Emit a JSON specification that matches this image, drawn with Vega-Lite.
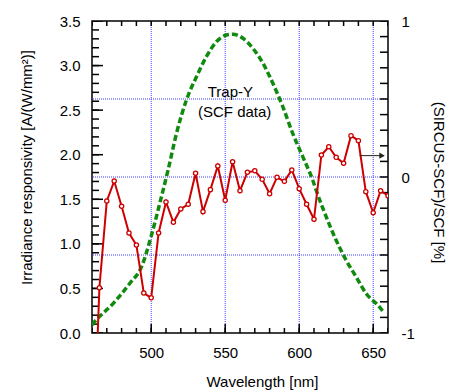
{
  "$schema": "https://vega.github.io/schema/vega-lite/v6.json",
  "autosize": "none",
  "width": 296,
  "height": 312,
  "padding": {"left": 92, "top": 21, "right": 63, "bottom": 59},
  "background": "white",
  "datasets": {
    "xminor": [{"t": 460}, {"t": 470}, {"t": 480}, {"t": 490}, {"t": 500}, {"t": 510}, {"t": 520}, {"t": 530}, {"t": 540}, {"t": 550}, {"t": 560}, {"t": 570}, {"t": 580}, {"t": 590}, {"t": 600}, {"t": 610}, {"t": 620}, {"t": 630}, {"t": 640}, {"t": 650}, {"t": 660}],
    "xmajor": [{"t": 500}, {"t": 550}, {"t": 600}, {"t": 650}],
    "lminor": [{"t": 0}, {"t": 0.1}, {"t": 0.2}, {"t": 0.3}, {"t": 0.4}, {"t": 0.5}, {"t": 0.6}, {"t": 0.7}, {"t": 0.8}, {"t": 0.9}, {"t": 1}, {"t": 1.1}, {"t": 1.2}, {"t": 1.3}, {"t": 1.4}, {"t": 1.5}, {"t": 1.6}, {"t": 1.7}, {"t": 1.8}, {"t": 1.9}, {"t": 2}, {"t": 2.1}, {"t": 2.2}, {"t": 2.3}, {"t": 2.4}, {"t": 2.5}, {"t": 2.6}, {"t": 2.7}, {"t": 2.8}, {"t": 2.9}, {"t": 3}, {"t": 3.1}, {"t": 3.2}, {"t": 3.3}, {"t": 3.4}, {"t": 3.5}],
    "lmajor": [{"t": 0}, {"t": 0.5}, {"t": 1}, {"t": 1.5}, {"t": 2}, {"t": 2.5}, {"t": 3}, {"t": 3.5}],
    "rticks": [{"t": -1}, {"t": -0.9}, {"t": -0.8}, {"t": -0.7}, {"t": -0.6}, {"t": -0.5}, {"t": -0.4}, {"t": -0.3}, {"t": -0.2}, {"t": -0.1}, {"t": 0}, {"t": 0.1}, {"t": 0.2}, {"t": 0.3}, {"t": 0.4}, {"t": 0.5}, {"t": 0.6}, {"t": 0.7}, {"t": 0.8}, {"t": 0.9}, {"t": 1}]
  },
  "config": {
    "view": {"stroke": "black", "strokeWidth": 1.5},
    "axis": {
      "domain": false, "grid": false, "ticks": false,
      "labelFont": "Liberation Sans", "labelFontSize": 15, "labelColor": "black",
      "titleFont": "Liberation Sans", "titleFontSize": 15, "titleFontWeight": "normal", "titleColor": "black"
    }
  },
  "resolve": {"scale": {"y": "independent"}, "axis": {"x": "independent", "y": "independent"}},
  "layer": [
    {
      "data": {"values": [{"gx": 500}, {"gx": 550}, {"gx": 600}, {"gx": 650}]},
      "mark": {"type": "rule", "stroke": "#3d3dff", "strokeWidth": 1, "strokeDash": [1, 1]},
      "encoding": {
        "x": {"field": "gx", "type": "quantitative",
          "scale": {"domain": [460, 660], "nice": false, "zero": false},
          "axis": {"orient": "bottom", "values": [500, 550, 600, 650], "labelPadding": 12,
            "title": "Wavelength [nm]", "titleX": 170, "titleY": 48, "titleBaseline": "middle", "titleAnchor": "middle"}}
      }
    },
    {
      "data": {"values": [{"gy": -0.5}, {"gy": 0}, {"gy": 0.5}]},
      "mark": {"type": "rule", "stroke": "#3d3dff", "strokeWidth": 1, "strokeDash": [1, 1]},
      "encoding": {
        "y": {"field": "gy", "type": "quantitative",
          "scale": {"domain": [-1, 1], "nice": false, "zero": false},
          "axis": {"orient": "right", "values": [-1, 0, 1], "labelPadding": 13, "labelAlign": "left",
            "labelExpr": "datum.value < -0.5 ? '-1' : datum.value > 0.5 ? '1' : '0'",
            "title": "(SIRCUS-SCF)/SCF [%]", "titleX": 50, "titleY": 161, "titleAngle": 90, "titleBaseline": "middle", "titleAnchor": "middle"}}
      }
    },
    {
      "data": {"name": "xminor"},
      "mark": {"type": "tick", "orient": "vertical", "size": 10, "thickness": 1.5, "color": "black", "opacity": 1, "clip": true},
      "encoding": {
        "x": {"field": "t", "type": "quantitative", "scale": {"domain": [460, 660], "nice": false, "zero": false}, "axis": null},
        "y": {"datum": -1, "type": "quantitative", "scale": {"domain": [-1, 1], "nice": false, "zero": false}, "axis": null}
      }
    },
    {
      "data": {"name": "xminor"},
      "mark": {"type": "tick", "orient": "vertical", "size": 10, "thickness": 1.5, "color": "black", "opacity": 1, "clip": true},
      "encoding": {
        "x": {"field": "t", "type": "quantitative", "scale": {"domain": [460, 660], "nice": false, "zero": false}, "axis": null},
        "y": {"datum": 1, "type": "quantitative", "scale": {"domain": [-1, 1], "nice": false, "zero": false}, "axis": null}
      }
    },
    {
      "data": {"name": "xmajor"},
      "mark": {"type": "tick", "orient": "vertical", "size": 18, "thickness": 1.5, "color": "black", "opacity": 1, "clip": true},
      "encoding": {
        "x": {"field": "t", "type": "quantitative", "scale": {"domain": [460, 660], "nice": false, "zero": false}, "axis": null},
        "y": {"datum": -1, "type": "quantitative", "scale": {"domain": [-1, 1], "nice": false, "zero": false}, "axis": null}
      }
    },
    {
      "data": {"name": "lminor"},
      "mark": {"type": "tick", "orient": "horizontal", "size": 14, "thickness": 1.5, "color": "black", "opacity": 1, "clip": true},
      "encoding": {
        "y": {"field": "t", "type": "quantitative", "scale": {"domain": [0, 3.5], "nice": false, "zero": false}, "axis": null},
        "x": {"datum": 460, "type": "quantitative", "scale": {"domain": [460, 660], "nice": false, "zero": false}, "axis": null}
      }
    },
    {
      "data": {"name": "lmajor"},
      "mark": {"type": "tick", "orient": "horizontal", "size": 22, "thickness": 1.5, "color": "black", "opacity": 1, "clip": true},
      "encoding": {
        "y": {"field": "t", "type": "quantitative", "scale": {"domain": [0, 3.5], "nice": false, "zero": false}, "axis": null},
        "x": {"datum": 460, "type": "quantitative", "scale": {"domain": [460, 660], "nice": false, "zero": false}, "axis": null}
      }
    },
    {
      "data": {"name": "rticks"},
      "mark": {"type": "tick", "orient": "horizontal", "size": 16, "thickness": 1.5, "color": "black", "opacity": 1, "clip": true},
      "encoding": {
        "y": {"field": "t", "type": "quantitative", "scale": {"domain": [-1, 1], "nice": false, "zero": false}, "axis": null},
        "x": {"datum": 660, "type": "quantitative", "scale": {"domain": [460, 660], "nice": false, "zero": false}, "axis": null}
      }
    },
    {
      "data": {"values": [
        {"wl": 460.0, "resp": 0.09},
        {"wl": 460.9, "resp": 0.109},
        {"wl": 474.4, "resp": 0.333},
        {"wl": 485.6, "resp": 0.558},
        {"wl": 493.5, "resp": 0.744},
        {"wl": 500.2, "resp": 1.099},
        {"wl": 505.8, "resp": 1.455},
        {"wl": 511.4, "resp": 1.829},
        {"wl": 517.1, "resp": 2.240},
        {"wl": 523.8, "resp": 2.614},
        {"wl": 530.6, "resp": 2.875},
        {"wl": 537.3, "resp": 3.100},
        {"wl": 544.1, "resp": 3.268},
        {"wl": 550.8, "resp": 3.343},
        {"wl": 555.2, "resp": 3.351},
        {"wl": 562.0, "resp": 3.306},
        {"wl": 568.7, "resp": 3.194},
        {"wl": 575.5, "resp": 3.026},
        {"wl": 582.2, "resp": 2.801},
        {"wl": 588.9, "resp": 2.539},
        {"wl": 595.6, "resp": 2.240},
        {"wl": 602.4, "resp": 1.978},
        {"wl": 609.1, "resp": 1.716},
        {"wl": 611.4, "resp": 1.604},
        {"wl": 618.2, "resp": 1.305},
        {"wl": 624.9, "resp": 1.043},
        {"wl": 631.6, "resp": 0.819},
        {"wl": 638.4, "resp": 0.632},
        {"wl": 645.1, "resp": 0.445},
        {"wl": 654.1, "resp": 0.295},
        {"wl": 657.5, "resp": 0.221}
      ]},
      "mark": {"type": "line", "color": "#0f8a0f", "strokeWidth": 3.5, "strokeDash": [6, 3], "interpolate": "monotone", "clip": true},
      "encoding": {
        "x": {"field": "wl", "type": "quantitative",
          "scale": {"domain": [460, 660], "nice": false, "zero": false}, "axis": null},
        "y": {"field": "resp", "type": "quantitative",
          "scale": {"domain": [0, 3.5], "nice": false, "zero": false},
          "axis": {"orient": "left", "values": [0, 0.5, 1, 1.5, 2, 2.5, 3, 3.5], "format": ".1f", "labelPadding": 12,
            "title": "Irradiance responsivity [A/(W/mm²)]", "titleX": -66, "titleY": 146, "titleAngle": -90, "titleBaseline": "middle", "titleAnchor": "middle"}}
      }
    },
    {
      "data": {"values": [
        {"wl": 460, "diff": -2.0},
        {"wl": 465, "diff": -0.710},
        {"wl": 470, "diff": -0.154},
        {"wl": 475, "diff": -0.026},
        {"wl": 480, "diff": -0.188},
        {"wl": 485, "diff": -0.359},
        {"wl": 490, "diff": -0.436},
        {"wl": 495, "diff": -0.744},
        {"wl": 500, "diff": -0.774},
        {"wl": 505, "diff": -0.359},
        {"wl": 510, "diff": -0.160},
        {"wl": 515, "diff": -0.290},
        {"wl": 520, "diff": -0.205},
        {"wl": 525, "diff": -0.175},
        {"wl": 530, "diff": 0.024},
        {"wl": 535, "diff": -0.222},
        {"wl": 540, "diff": -0.081},
        {"wl": 545, "diff": 0.071},
        {"wl": 550, "diff": -0.149},
        {"wl": 555, "diff": 0.098},
        {"wl": 560, "diff": -0.088},
        {"wl": 565, "diff": 0.030},
        {"wl": 570, "diff": 0.040},
        {"wl": 575, "diff": -0.015},
        {"wl": 580, "diff": -0.107},
        {"wl": 585, "diff": -0.002},
        {"wl": 590, "diff": -0.028},
        {"wl": 595, "diff": 0.045},
        {"wl": 600, "diff": -0.075},
        {"wl": 605, "diff": -0.175},
        {"wl": 610, "diff": -0.271},
        {"wl": 615, "diff": 0.141},
        {"wl": 620, "diff": 0.194},
        {"wl": 625, "diff": 0.126},
        {"wl": 630, "diff": 0.088},
        {"wl": 635, "diff": 0.265},
        {"wl": 640, "diff": 0.233},
        {"wl": 645, "diff": -0.094},
        {"wl": 650, "diff": -0.229},
        {"wl": 655, "diff": -0.088},
        {"wl": 660, "diff": -0.120}
      ]},
      "mark": {"type": "line", "color": "#cc0000", "strokeWidth": 2, "clip": true,
        "point": {"filled": false, "fill": "white", "stroke": "#cc0000", "strokeWidth": 1.3, "size": 18}},
      "encoding": {
        "x": {"field": "wl", "type": "quantitative",
          "scale": {"domain": [460, 660], "nice": false, "zero": false}, "axis": null},
        "y": {"field": "diff", "type": "quantitative",
          "scale": {"domain": [-1, 1], "nice": false, "zero": false}, "axis": null}
      }
    },
    {
      "data": {"values": [
        {"wl": 553.5, "v": 2.651, "label": "Trap-Y"},
        {"wl": 556.4, "v": 2.427, "label": "(SCF data)"}
      ]},
      "mark": {"type": "text", "font": "Liberation Sans", "fontSize": 15, "color": "black", "align": "center", "baseline": "alphabetic"},
      "encoding": {
        "x": {"field": "wl", "type": "quantitative", "scale": {"domain": [460, 660], "nice": false, "zero": false}, "axis": null},
        "y": {"field": "v", "type": "quantitative", "scale": {"domain": [0, 3.5], "nice": false, "zero": false}, "axis": null},
        "text": {"field": "label"}
      }
    },
    {
      "data": {"values": [{"x1": 640.8, "x2": 657.0, "v": 0.137}]},
      "mark": {"type": "rule", "color": "#222", "strokeWidth": 1},
      "encoding": {
        "x": {"field": "x1", "type": "quantitative", "scale": {"domain": [460, 660], "nice": false, "zero": false}, "axis": null},
        "x2": {"field": "x2"},
        "y": {"field": "v", "type": "quantitative", "scale": {"domain": [-1, 1], "nice": false, "zero": false}, "axis": null}
      }
    },
    {
      "data": {"values": [{"x2": 656.0, "v": 0.137}]},
      "mark": {"type": "point", "shape": "triangle-right", "filled": true, "color": "#222", "size": 40, "opacity": 1},
      "encoding": {
        "x": {"field": "x2", "type": "quantitative", "scale": {"domain": [460, 660], "nice": false, "zero": false}, "axis": null},
        "y": {"field": "v", "type": "quantitative", "scale": {"domain": [-1, 1], "nice": false, "zero": false}, "axis": null}
      }
    }
  ]
}
